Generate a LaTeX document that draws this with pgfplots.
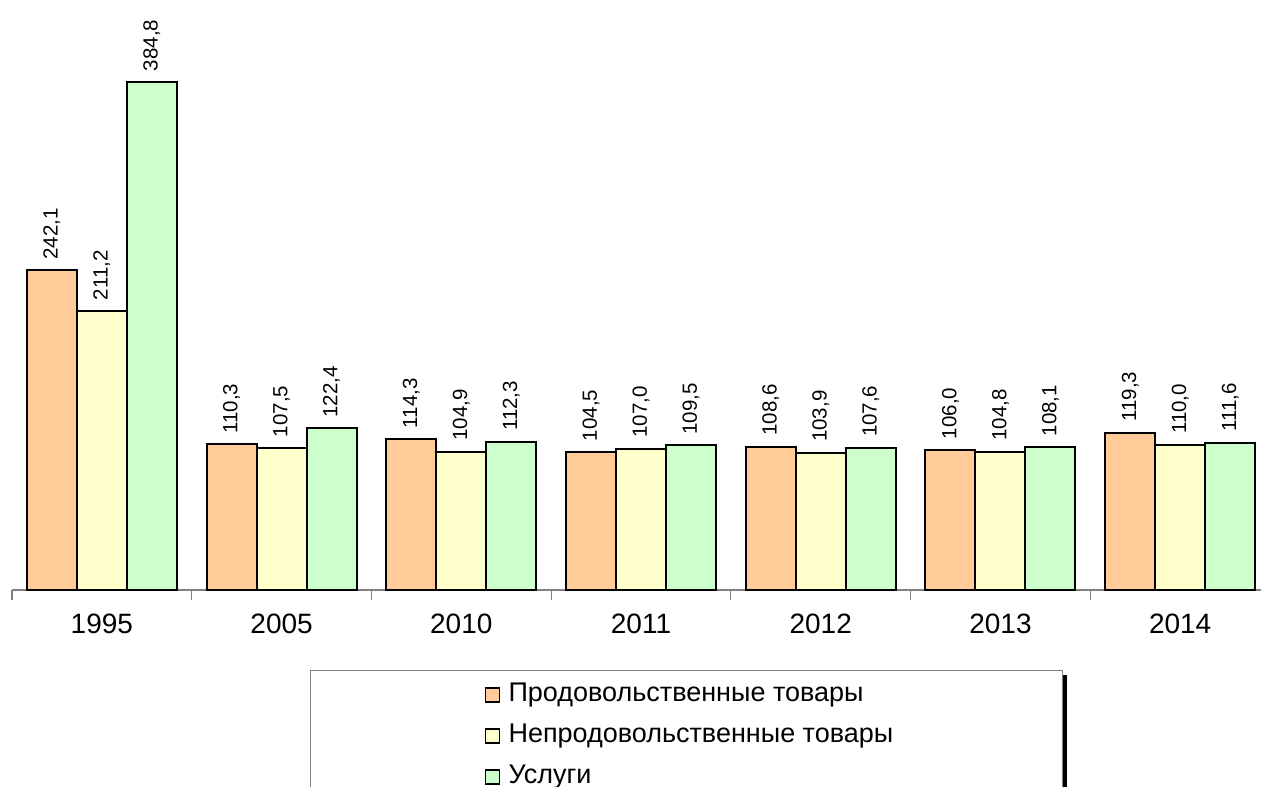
\documentclass[border=0pt]{standalone}
\usepackage{fontspec}
\setmainfont{Liberation Sans}
\usepackage{pgfplots}
\pgfplotsset{compat=1.18}
\definecolor{cOr}{HTML}{FFCC99}
\definecolor{cYe}{HTML}{FFFFCC}
\definecolor{cGr}{HTML}{CCFFCC}
\definecolor{axgray}{HTML}{808080}
\begin{document}
\begin{tikzpicture}
\begin{axis}[
  at={(0,0)}, anchor=south west,
  scale only axis, width=1249pt, height=590pt,
  xmin=-0.5, xmax=6.45, ymin=0, ymax=447,
  clip=false,
  axis x line*=bottom, axis y line=none,
  x axis line style={axgray, line width=1.2pt},
  ybar=0pt, bar width=50pt,
  xtick={0,1,2,3,4,5,6},
  xticklabels={1995,2005,2010,2011,2012,2013,2014},
  major tick length=0pt,
  tick align=outside,
  extra x ticks={-0.5,0.5,1.5,2.5,3.5,4.5,5.5},
  extra x tick labels={},
  extra x tick style={major tick length=10pt, tick style={axgray, line width=1.2pt}},
  xticklabel style={font=\fontsize{28}{30}\selectfont, inner sep=0pt, yshift=-24pt},
  point meta=explicit symbolic,
  nodes near coords,
  every node near coord/.append style={rotate=90, anchor=west, inner xsep=10pt, inner ysep=0pt, font=\fontsize{20.5}{22}\selectfont, text=black},
  legend cell align=left,
  legend image code/.code={\draw[#1, line width=1.5pt] (5pt,-7pt) rectangle (19pt,7pt); \path (0pt,0pt) (27pt,0pt);},
  legend style={name=leg, at={(0.2386,-0.1356)}, anchor=north west, draw=axgray, line width=1pt, fill=white,
    inner xsep=169pt, inner ysep=12pt, row sep=16pt, column sep=0pt,
    nodes={inner sep=0pt, text height=19pt, text depth=6pt},
    font=\fontsize{27}{29}\selectfont},
]
\addplot[draw=black, line width=2pt, fill=cOr] coordinates {
  (0,242.1) [242,1] (1,110.3) [110,3] (2,114.3) [114,3] (3,104.5) [104,5]
  (4,108.6) [108,6] (5,106.0) [106,0] (6,119.3) [119,3]};
\addplot[draw=black, line width=2pt, fill=cYe] coordinates {
  (0,211.2) [211,2] (1,107.5) [107,5] (2,104.9) [104,9] (3,107.0) [107,0]
  (4,103.9) [103,9] (5,104.8) [104,8] (6,110.0) [110,0]};
\addplot[draw=black, line width=2pt, fill=cGr] coordinates {
  (0,384.8) [384,8] (1,122.4) [122,4] (2,112.3) [112,3] (3,109.5) [109,5]
  (4,107.6) [107,6] (5,108.1) [108,1] (6,111.6) [111,6]};
\legend{Продовольственные товары, Непродовольственные товары, Услуги}
\end{axis}
\fill[black] ([shift={(0.5pt,-5pt)}]leg.north east) rectangle ([shift={(4.5pt,-5pt)}]leg.south east);
\pgfresetboundingbox
\path (-12pt,-197pt) rectangle (1249pt,590pt);
\end{tikzpicture}
\end{document}
